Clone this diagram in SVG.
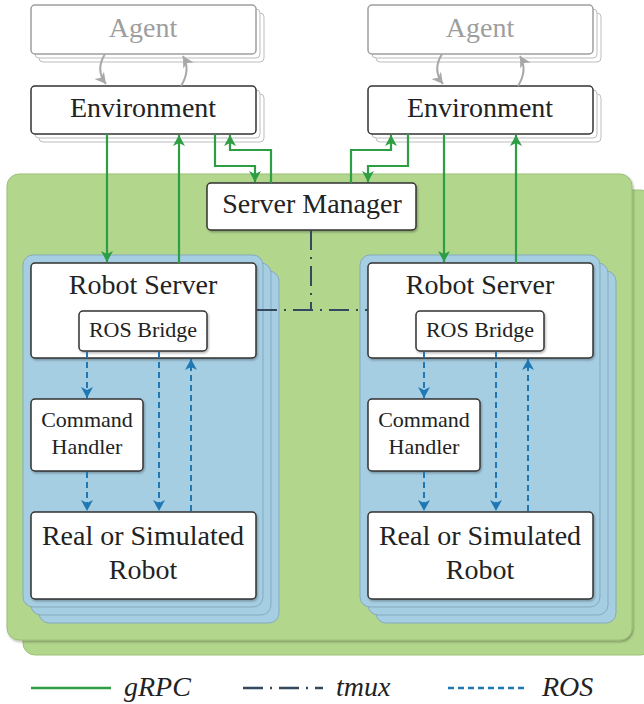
<svg xmlns="http://www.w3.org/2000/svg" width="644" height="704" viewBox="0 0 644 704">
<style>
text{font-family:"Liberation Serif","Times New Roman",serif;fill:#222;text-anchor:middle}
.box{fill:#fff;stroke:#333;stroke-width:1.5}
.stk{fill:#fff;stroke:#bdbdbd;stroke-width:1}
.ag{fill:#fff;stroke:#9e9e9e;stroke-width:1.5}
.agt{fill:#9e9e9e}
.blue{fill:#a6cee3;stroke:#86a9bd;stroke-width:1}
.green{fill:#b2d78c;stroke:#9cbf78;stroke-width:1}
.g{fill:none;stroke:#2e9e44;stroke-width:2.2}
.r{fill:none;stroke:#1f78b4;stroke-width:2;stroke-dasharray:6,4}
.t{fill:none;stroke:#34495e;stroke-width:2;stroke-dasharray:20,7,2,7}
.c{fill:none;stroke:#a8a8a8;stroke-width:2}
.lg{font-style:italic;font-size:28px;text-anchor:start}
</style>
<defs>
<marker id="ag" markerUnits="userSpaceOnUse" markerWidth="14" markerHeight="14" viewBox="-12 -7 14 14" refX="0" refY="0" orient="auto"><path d="M0,0 L-11,-6 L-8,0 L-11,6 Z" fill="#2e9e44"/></marker>
<marker id="ab" markerUnits="userSpaceOnUse" markerWidth="14" markerHeight="14" viewBox="-12 -7 14 14" refX="0" refY="0" orient="auto"><path d="M0,0 L-11,-6 L-8,0 L-11,6 Z" fill="#1f78b4"/></marker>
<marker id="ac" markerUnits="userSpaceOnUse" markerWidth="14" markerHeight="14" viewBox="-12 -7 14 14" refX="0" refY="0" orient="auto"><path d="M0,0 L-11,-6 L-8,0 L-11,6 Z" fill="#a8a8a8"/></marker>
<filter id="sh" x="-10%" y="-10%" width="130%" height="130%"><feDropShadow dx="1" dy="1.5" stdDeviation="1" flood-color="#000" flood-opacity="0.3"/></filter>
</defs>

<g id="cluster-panel">
<rect class="green" x="23" y="190" width="630" height="465" rx="12"/>
<rect class="green" x="7" y="174" width="625" height="466" rx="12" filter="url(#sh)"/>
</g>

<g id="robot-stack-left">
<rect class="blue" x="39" y="271" width="240" height="352" rx="10"/>
<rect class="blue" x="31" y="263" width="240" height="352" rx="10"/>
<rect class="blue" x="23" y="255" width="240" height="352" rx="10"/>
</g>
<g id="robot-stack-right">
<rect class="blue" x="376" y="271" width="240" height="352" rx="10"/>
<rect class="blue" x="368" y="263" width="240" height="352" rx="10"/>
<rect class="blue" x="360" y="255" width="240" height="352" rx="10"/>
</g>

<g id="agent-left">
<rect class="stk" x="39" y="13" width="225" height="49" rx="4"/>
<rect class="stk" x="35" y="9" width="225" height="49" rx="4"/>
<rect class="ag" x="31" y="5" width="225" height="49" rx="4"/>
<text x="143" y="37" font-size="28" class="agt">Agent</text>
</g>
<g id="agent-right">
<rect class="stk" x="376" y="13" width="225" height="49" rx="4"/>
<rect class="stk" x="372" y="9" width="225" height="49" rx="4"/>
<rect class="ag" x="368" y="5" width="225" height="49" rx="4"/>
<text x="480" y="37" font-size="28" class="agt">Agent</text>
</g>

<g id="env-left">
<rect class="stk" x="39" y="94" width="225" height="48" rx="4"/>
<rect class="stk" x="35" y="90" width="225" height="48" rx="4"/>
<rect class="box" x="31" y="86" width="225" height="48" rx="4"/>
<text x="143" y="117" font-size="28">Environment</text>
</g>
<g id="env-right">
<rect class="stk" x="376" y="94" width="225" height="48" rx="4"/>
<rect class="stk" x="372" y="90" width="225" height="48" rx="4"/>
<rect class="box" x="368" y="86" width="225" height="48" rx="4"/>
<text x="480" y="117" font-size="28">Environment</text>
</g>

<g id="server-manager">
<rect class="box" x="207" y="183" width="209" height="47" rx="4" filter="url(#sh)"/>
<text x="312" y="213" font-size="28">Server Manager</text>
</g>

<g id="robot-server-left">
<rect class="box" x="31" y="263" width="225" height="95" rx="4" filter="url(#sh)"/>
<text x="143" y="294" font-size="28">Robot Server</text>
</g>
<g id="ros-bridge-left">
<rect class="box" x="79" y="311" width="128" height="40" rx="4" filter="url(#sh)"/>
<text x="143" y="337" font-size="22">ROS Bridge</text>
</g>
<g id="command-handler-left">
<rect class="box" x="31" y="399" width="112" height="72" rx="4" filter="url(#sh)"/>
<text x="87" y="427" font-size="22">Command</text>
<text x="87" y="454" font-size="22">Handler</text>
</g>
<g id="robot-left">
<rect class="box" x="31" y="512" width="225" height="87" rx="4" filter="url(#sh)"/>
<text x="143" y="545" font-size="28">Real or Simulated</text>
<text x="143" y="579" font-size="28">Robot</text>
</g>

<g id="robot-server-right">
<rect class="box" x="368" y="263" width="225" height="95" rx="4" filter="url(#sh)"/>
<text x="480" y="294" font-size="28">Robot Server</text>
</g>
<g id="ros-bridge-right">
<rect class="box" x="416" y="311" width="128" height="40" rx="4" filter="url(#sh)"/>
<text x="480" y="337" font-size="22">ROS Bridge</text>
</g>
<g id="command-handler-right">
<rect class="box" x="368" y="399" width="112" height="72" rx="4" filter="url(#sh)"/>
<text x="424" y="427" font-size="22">Command</text>
<text x="424" y="454" font-size="22">Handler</text>
</g>
<g id="robot-right">
<rect class="box" x="368" y="512" width="225" height="87" rx="4" filter="url(#sh)"/>
<text x="480" y="545" font-size="28">Real or Simulated</text>
<text x="480" y="579" font-size="28">Robot</text>
</g>

<g id="connectors">
<path class="c" d="M105,54 Q95,70 106,84" marker-end="url(#ac)"/>
<path class="c" d="M181,86 Q191,70 183,56" marker-end="url(#ac)"/>
<path class="c" d="M442,54 Q432,70 443,84" marker-end="url(#ac)"/>
<path class="c" d="M518,86 Q528,70 520,56" marker-end="url(#ac)"/>

<path class="g" d="M107,134 V262" marker-end="url(#ag)"/>
<path class="g" d="M179,263 V135" marker-end="url(#ag)"/>
<path class="g" d="M215,134 V166 H255 V182" marker-end="url(#ag)"/>
<path class="g" d="M271,183 V150 H230 V135" marker-end="url(#ag)"/>
<path class="g" d="M351,183 V150 H391 V135" marker-end="url(#ag)"/>
<path class="g" d="M408,134 V166 H368 V182" marker-end="url(#ag)"/>
<path class="g" d="M444,134 V262" marker-end="url(#ag)"/>
<path class="g" d="M516,263 V135" marker-end="url(#ag)"/>

<path class="t" d="M311,230 V310"/>
<path class="t" d="M257,310 H368"/>

<path class="r" d="M87,352 V398" marker-end="url(#ab)"/>
<path class="r" d="M87,472 V511" marker-end="url(#ab)"/>
<path class="r" d="M159,352 V511" marker-end="url(#ab)"/>
<path class="r" d="M191,511 V359" marker-end="url(#ab)"/>
<path class="r" d="M424,352 V398" marker-end="url(#ab)"/>
<path class="r" d="M424,472 V511" marker-end="url(#ab)"/>
<path class="r" d="M496,352 V511" marker-end="url(#ab)"/>
<path class="r" d="M528,511 V359" marker-end="url(#ab)"/>
</g>

<g id="legend">
<line x1="31" y1="688" x2="111" y2="688" stroke="#2e9e44" stroke-width="2.5"/>
<text class="lg" x="124" y="696">gRPC</text>
<line x1="243" y1="688" x2="323" y2="688" stroke="#34495e" stroke-width="2.5" stroke-dasharray="20,7,2,7"/>
<text class="lg" x="336" y="696">tmux</text>
<line x1="448" y1="688" x2="528" y2="688" stroke="#1f78b4" stroke-width="2.5" stroke-dasharray="6,4"/>
<text class="lg" x="542" y="696">ROS</text>
</g>
</svg>
